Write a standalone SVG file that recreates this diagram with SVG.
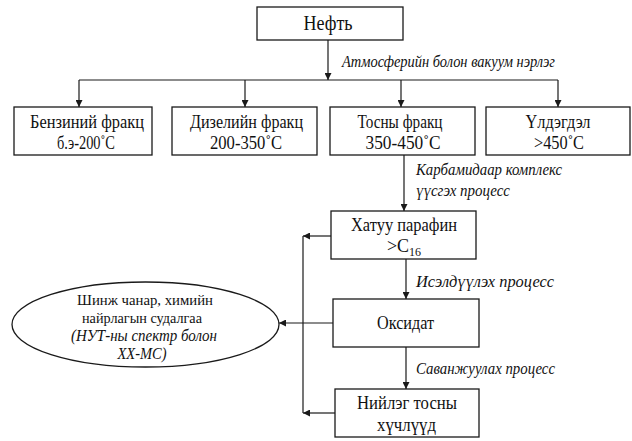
<svg xmlns="http://www.w3.org/2000/svg" width="632" height="441" viewBox="0 0 632 441">
<style>
.box{fill:#fff;stroke:#1a1a1a;stroke-width:1.3}
.t{font-family:"Liberation Serif","Times New Roman","DejaVu Serif",serif;font-size:18px;fill:#111;text-anchor:middle}
.e{font-size:15.5px}
.i{font-family:"Liberation Serif","Times New Roman","DejaVu Serif",serif;font-size:17px;font-style:italic;fill:#111}
.ln{stroke:#1a1a1a;stroke-width:1.2;fill:none}
</style>
<defs>
<marker id="ah" viewBox="0 0 10 10" refX="10" refY="5" markerWidth="7" markerHeight="7" markerUnits="userSpaceOnUse" orient="auto">
<path d="M0,0 L10,5 L0,10 z" fill="#1a1a1a"/>
</marker>
</defs>
<rect width="632" height="441" fill="#fff"/>

<g id="connectors">
<line class="ln" x1="328" y1="40" x2="328" y2="80" marker-end="url(#ah)"/>
<line class="ln" x1="79" y1="80" x2="558" y2="80"/>
<line class="ln" x1="79" y1="80" x2="79" y2="107" marker-end="url(#ah)"/>
<line class="ln" x1="245" y1="80" x2="245" y2="107" marker-end="url(#ah)"/>
<line class="ln" x1="401" y1="80" x2="401" y2="107" marker-end="url(#ah)"/>
<line class="ln" x1="558" y1="80" x2="558" y2="107" marker-end="url(#ah)"/>
<line class="ln" x1="404" y1="155" x2="404" y2="211" marker-end="url(#ah)"/>
<line class="ln" x1="406" y1="259" x2="406" y2="299" marker-end="url(#ah)"/>
<line class="ln" x1="406" y1="347" x2="406" y2="389" marker-end="url(#ah)"/>
<line class="ln" x1="331" y1="236" x2="303" y2="236" marker-end="url(#ah)"/>
<line class="ln" x1="335" y1="413" x2="303" y2="413" marker-end="url(#ah)"/>
<line class="ln" x1="303" y1="236" x2="303" y2="413"/>
<line class="ln" x1="333" y1="323" x2="279" y2="323" marker-end="url(#ah)"/>
<text class="i" x="342" y="67" textLength="213" lengthAdjust="spacingAndGlyphs">Атмосферийн болон вакуум нэрлэг</text>
<text class="i" x="416" y="175" textLength="146" lengthAdjust="spacingAndGlyphs">Карбамидаар комплекс</text>
<text class="i" x="416" y="196" textLength="94" lengthAdjust="spacingAndGlyphs">үүсгэх процесс</text>
<text class="i" x="416" y="287" textLength="138" lengthAdjust="spacingAndGlyphs">Исэлдүүлэх процесс</text>
<text class="i" x="416" y="374" textLength="139" lengthAdjust="spacingAndGlyphs">Саванжуулах процесс</text>
</g>

<g id="neft">
<rect class="box" x="257" y="7" width="146" height="33"/>
<text class="t" x="328" y="30" style="font-size:20px" textLength="49" lengthAdjust="spacingAndGlyphs">Нефть</text>
</g>

<g id="benzin">
<rect class="box" x="14" y="107" width="138" height="48"/>
<text class="t" x="87" y="128" textLength="114" lengthAdjust="spacingAndGlyphs">Бензиний  фракц</text>
<text class="t" x="86" y="149" textLength="58" lengthAdjust="spacingAndGlyphs">б.э-200˚C</text>
</g>

<g id="dizel">
<rect class="box" x="172" y="107" width="145" height="48"/>
<text class="t" x="246.5" y="128" textLength="113" lengthAdjust="spacingAndGlyphs">Дизелийн  фракц</text>
<text class="t" x="246" y="149" textLength="72" lengthAdjust="spacingAndGlyphs">200-350˚C</text>
</g>

<g id="tos">
<rect class="box" x="330" y="107" width="145" height="48"/>
<text class="t" x="400" y="128" textLength="85" lengthAdjust="spacingAndGlyphs">Тосны фракц</text>
<text class="t" x="403" y="149" textLength="75" lengthAdjust="spacingAndGlyphs">350-450˚C</text>
</g>

<g id="uldegdel">
<rect class="box" x="486" y="107" width="144" height="48"/>
<text class="t" x="558" y="128" textLength="65" lengthAdjust="spacingAndGlyphs">Үлдэгдэл</text>
<text class="t" x="559" y="149" textLength="50" lengthAdjust="spacingAndGlyphs">&gt;450˚C</text>
</g>

<g id="paraffin">
<rect class="box" x="331" y="211" width="145" height="48"/>
<text class="t" x="404" y="231" textLength="106" lengthAdjust="spacingAndGlyphs">Хатуу  парафин</text>
<text class="t" x="404" y="252">&gt;C<tspan dy="4" style="font-size:12px">16</tspan></text>
</g>

<g id="oksidat">
<rect class="box" x="333" y="299" width="146" height="48"/>
<text class="t" x="405.5" y="329" textLength="57" lengthAdjust="spacingAndGlyphs">Оксидат</text>
</g>

<g id="niileg">
<rect class="box" x="335" y="389" width="144" height="48"/>
<text class="t" x="407" y="409" textLength="100" lengthAdjust="spacingAndGlyphs">Нийлэг  тосны</text>
<text class="t" x="406.5" y="431" textLength="59" lengthAdjust="spacingAndGlyphs">хүчлүүд</text>
</g>

<g id="sudalgaa">
<ellipse class="box" cx="145.5" cy="324.5" rx="133.5" ry="42.5"/>
<text class="t e" x="145" y="305" textLength="136" lengthAdjust="spacingAndGlyphs">Шинж чанар, химийн</text>
<text class="t e" x="142" y="323" textLength="120" lengthAdjust="spacingAndGlyphs">найрлагын судалгаа</text>
<text class="i e" x="144" y="341" text-anchor="middle" textLength="146" lengthAdjust="spacingAndGlyphs">(НУТ-ны спектр болон</text>
<text class="i e" x="142" y="359" text-anchor="middle" textLength="49" lengthAdjust="spacingAndGlyphs">ХХ-МС)</text>
</g>
</svg>
